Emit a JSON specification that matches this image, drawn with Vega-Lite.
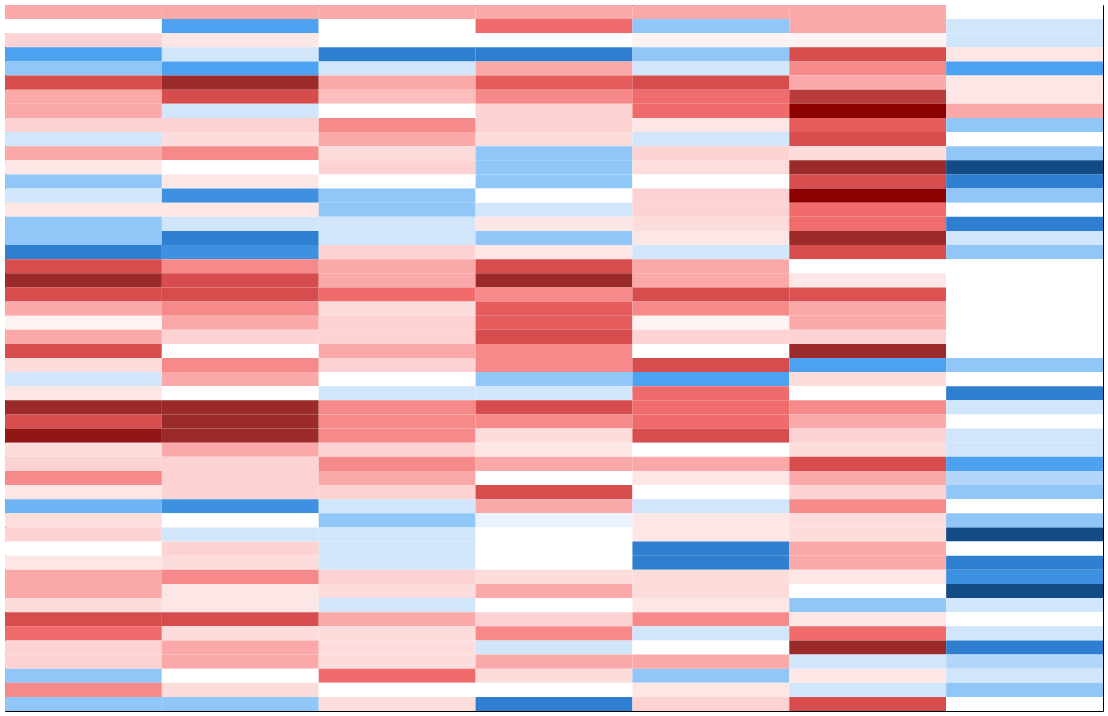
{
"$schema": "https://vega.github.io/schema/vega-lite/v6.json",
"width": 1098, "height": 706, "padding": 5,
"data": {"values": [
{"r":0,"c":1,"v":3},{"r":0,"c":2,"v":3},{"r":0,"c":3,"v":3},{"r":0,"c":4,"v":3},{"r":0,"c":5,"v":3},{"r":0,"c":6,"v":3},{"r":0,"c":7,"v":0},
{"r":1,"c":1,"v":0},{"r":1,"c":2,"v":-3},{"r":1,"c":3,"v":0},{"r":1,"c":4,"v":4},{"r":1,"c":5,"v":-2},{"r":1,"c":6,"v":3},{"r":1,"c":7,"v":-1},
{"r":2,"c":1,"v":2},{"r":2,"c":2,"v":1},{"r":2,"c":3,"v":0},{"r":2,"c":4,"v":0},{"r":2,"c":5,"v":0.5},{"r":2,"c":6,"v":0.5},{"r":2,"c":7,"v":-1},
{"r":3,"c":1,"v":-3},{"r":3,"c":2,"v":-1},{"r":3,"c":3,"v":-4},{"r":3,"c":4,"v":-4},{"r":3,"c":5,"v":-2},{"r":3,"c":6,"v":5},{"r":3,"c":7,"v":1},
{"r":4,"c":1,"v":-2},{"r":4,"c":2,"v":-3},{"r":4,"c":3,"v":-1},{"r":4,"c":4,"v":3},{"r":4,"c":5,"v":-1},{"r":4,"c":6,"v":3.5},{"r":4,"c":7,"v":-3},
{"r":5,"c":1,"v":5},{"r":5,"c":2,"v":6},{"r":5,"c":3,"v":3},{"r":5,"c":4,"v":4.5},{"r":5,"c":5,"v":5},{"r":5,"c":6,"v":3},{"r":5,"c":7,"v":1},
{"r":6,"c":1,"v":3},{"r":6,"c":2,"v":5},{"r":6,"c":3,"v":2.5},{"r":6,"c":4,"v":3.5},{"r":6,"c":5,"v":4},{"r":6,"c":6,"v":5.5},{"r":6,"c":7,"v":1},
{"r":7,"c":1,"v":3},{"r":7,"c":2,"v":-1},{"r":7,"c":3,"v":0},{"r":7,"c":4,"v":2},{"r":7,"c":5,"v":4},{"r":7,"c":6,"v":7},{"r":7,"c":7,"v":3},
{"r":8,"c":1,"v":2},{"r":8,"c":2,"v":2},{"r":8,"c":3,"v":3.5},{"r":8,"c":4,"v":2},{"r":8,"c":5,"v":1},{"r":8,"c":6,"v":4.5},{"r":8,"c":7,"v":-2},
{"r":9,"c":1,"v":-1},{"r":9,"c":2,"v":1.5},{"r":9,"c":3,"v":3},{"r":9,"c":4,"v":1.5},{"r":9,"c":5,"v":-1},{"r":9,"c":6,"v":5},{"r":9,"c":7,"v":0},
{"r":10,"c":1,"v":3},{"r":10,"c":2,"v":3.5},{"r":10,"c":3,"v":1.5},{"r":10,"c":4,"v":-2},{"r":10,"c":5,"v":2},{"r":10,"c":6,"v":1.5},{"r":10,"c":7,"v":-2},
{"r":11,"c":1,"v":1},{"r":11,"c":2,"v":0},{"r":11,"c":3,"v":2},{"r":11,"c":4,"v":-2},{"r":11,"c":5,"v":1.5},{"r":11,"c":6,"v":6},{"r":11,"c":7,"v":-5},
{"r":12,"c":1,"v":-2},{"r":12,"c":2,"v":1},{"r":12,"c":3,"v":0},{"r":12,"c":4,"v":-2},{"r":12,"c":5,"v":0},{"r":12,"c":6,"v":5},{"r":12,"c":7,"v":-4},
{"r":13,"c":1,"v":-1},{"r":13,"c":2,"v":-3.5},{"r":13,"c":3,"v":-2},{"r":13,"c":4,"v":0},{"r":13,"c":5,"v":2},{"r":13,"c":6,"v":7},{"r":13,"c":7,"v":-2},
{"r":14,"c":1,"v":1},{"r":14,"c":2,"v":1},{"r":14,"c":3,"v":-2},{"r":14,"c":4,"v":-1},{"r":14,"c":5,"v":2},{"r":14,"c":6,"v":4},{"r":14,"c":7,"v":0},
{"r":15,"c":1,"v":-2},{"r":15,"c":2,"v":-1},{"r":15,"c":3,"v":-1},{"r":15,"c":4,"v":1},{"r":15,"c":5,"v":1.5},{"r":15,"c":6,"v":4},{"r":15,"c":7,"v":-4},
{"r":16,"c":1,"v":-2},{"r":16,"c":2,"v":-4},{"r":16,"c":3,"v":-1},{"r":16,"c":4,"v":-2},{"r":16,"c":5,"v":1},{"r":16,"c":6,"v":6},{"r":16,"c":7,"v":-1},
{"r":17,"c":1,"v":-4},{"r":17,"c":2,"v":-3.5},{"r":17,"c":3,"v":2},{"r":17,"c":4,"v":1},{"r":17,"c":5,"v":-1},{"r":17,"c":6,"v":5},{"r":17,"c":7,"v":-2},
{"r":18,"c":1,"v":5},{"r":18,"c":2,"v":3.5},{"r":18,"c":3,"v":3},{"r":18,"c":4,"v":5},{"r":18,"c":5,"v":3},{"r":18,"c":6,"v":0},{"r":18,"c":7,"v":0},
{"r":19,"c":1,"v":6},{"r":19,"c":2,"v":5},{"r":19,"c":3,"v":3},{"r":19,"c":4,"v":6},{"r":19,"c":5,"v":3},{"r":19,"c":6,"v":1},{"r":19,"c":7,"v":0},
{"r":20,"c":1,"v":5},{"r":20,"c":2,"v":5},{"r":20,"c":3,"v":4},{"r":20,"c":4,"v":3.5},{"r":20,"c":5,"v":5},{"r":20,"c":6,"v":4.8},{"r":20,"c":7,"v":0},
{"r":21,"c":1,"v":3},{"r":21,"c":2,"v":3.5},{"r":21,"c":3,"v":1.5},{"r":21,"c":4,"v":4.5},{"r":21,"c":5,"v":3.5},{"r":21,"c":6,"v":3},{"r":21,"c":7,"v":0},
{"r":22,"c":1,"v":0.5},{"r":22,"c":2,"v":3},{"r":22,"c":3,"v":2},{"r":22,"c":4,"v":4.5},{"r":22,"c":5,"v":0.5},{"r":22,"c":6,"v":3},{"r":22,"c":7,"v":0},
{"r":23,"c":1,"v":3},{"r":23,"c":2,"v":2},{"r":23,"c":3,"v":2},{"r":23,"c":4,"v":5},{"r":23,"c":5,"v":2},{"r":23,"c":6,"v":2},{"r":23,"c":7,"v":0},
{"r":24,"c":1,"v":5},{"r":24,"c":2,"v":0},{"r":24,"c":3,"v":3},{"r":24,"c":4,"v":3.5},{"r":24,"c":5,"v":0},{"r":24,"c":6,"v":6},{"r":24,"c":7,"v":0},
{"r":25,"c":1,"v":1.5},{"r":25,"c":2,"v":3.5},{"r":25,"c":3,"v":2},{"r":25,"c":4,"v":3.5},{"r":25,"c":5,"v":5},{"r":25,"c":6,"v":-3},{"r":25,"c":7,"v":-2},
{"r":26,"c":1,"v":-1},{"r":26,"c":2,"v":3},{"r":26,"c":3,"v":0},{"r":26,"c":4,"v":-2},{"r":26,"c":5,"v":-3},{"r":26,"c":6,"v":1.5},{"r":26,"c":7,"v":0},
{"r":27,"c":1,"v":1},{"r":27,"c":2,"v":0},{"r":27,"c":3,"v":-1},{"r":27,"c":4,"v":-1},{"r":27,"c":5,"v":4},{"r":27,"c":6,"v":0},{"r":27,"c":7,"v":-4},
{"r":28,"c":1,"v":6},{"r":28,"c":2,"v":6},{"r":28,"c":3,"v":3.5},{"r":28,"c":4,"v":5},{"r":28,"c":5,"v":4},{"r":28,"c":6,"v":3.5},{"r":28,"c":7,"v":-1},
{"r":29,"c":1,"v":5},{"r":29,"c":2,"v":6},{"r":29,"c":3,"v":3.5},{"r":29,"c":4,"v":3.5},{"r":29,"c":5,"v":4},{"r":29,"c":6,"v":3},{"r":29,"c":7,"v":0},
{"r":30,"c":1,"v":6.5},{"r":30,"c":2,"v":6},{"r":30,"c":3,"v":3.5},{"r":30,"c":4,"v":1.5},{"r":30,"c":5,"v":5},{"r":30,"c":6,"v":2},{"r":30,"c":7,"v":-1},
{"r":31,"c":1,"v":1.5},{"r":31,"c":2,"v":3},{"r":31,"c":3,"v":2},{"r":31,"c":4,"v":1},{"r":31,"c":5,"v":0},{"r":31,"c":6,"v":1.5},{"r":31,"c":7,"v":-1},
{"r":32,"c":1,"v":2},{"r":32,"c":2,"v":2},{"r":32,"c":3,"v":3.5},{"r":32,"c":4,"v":3},{"r":32,"c":5,"v":3},{"r":32,"c":6,"v":5},{"r":32,"c":7,"v":-3},
{"r":33,"c":1,"v":3.5},{"r":33,"c":2,"v":2},{"r":33,"c":3,"v":3},{"r":33,"c":4,"v":0},{"r":33,"c":5,"v":1},{"r":33,"c":6,"v":3},{"r":33,"c":7,"v":-1.5},
{"r":34,"c":1,"v":1},{"r":34,"c":2,"v":2},{"r":34,"c":3,"v":2},{"r":34,"c":4,"v":5},{"r":34,"c":5,"v":0},{"r":34,"c":6,"v":2},{"r":34,"c":7,"v":-2},
{"r":35,"c":1,"v":-2.5},{"r":35,"c":2,"v":-3.5},{"r":35,"c":3,"v":-1},{"r":35,"c":4,"v":3},{"r":35,"c":5,"v":-1},{"r":35,"c":6,"v":3.5},{"r":35,"c":7,"v":0},
{"r":36,"c":1,"v":1.5},{"r":36,"c":2,"v":0},{"r":36,"c":3,"v":-2},{"r":36,"c":4,"v":-0.5},{"r":36,"c":5,"v":1},{"r":36,"c":6,"v":1.5},{"r":36,"c":7,"v":-2},
{"r":37,"c":1,"v":2},{"r":37,"c":2,"v":-1},{"r":37,"c":3,"v":-1},{"r":37,"c":4,"v":0},{"r":37,"c":5,"v":1},{"r":37,"c":6,"v":1.5},{"r":37,"c":7,"v":-5},
{"r":38,"c":1,"v":0},{"r":38,"c":2,"v":2},{"r":38,"c":3,"v":-1},{"r":38,"c":4,"v":0},{"r":38,"c":5,"v":-4},{"r":38,"c":6,"v":3},{"r":38,"c":7,"v":0},
{"r":39,"c":1,"v":1},{"r":39,"c":2,"v":1.5},{"r":39,"c":3,"v":-1},{"r":39,"c":4,"v":0},{"r":39,"c":5,"v":-4},{"r":39,"c":6,"v":3},{"r":39,"c":7,"v":-4},
{"r":40,"c":1,"v":3},{"r":40,"c":2,"v":3.5},{"r":40,"c":3,"v":2},{"r":40,"c":4,"v":1.5},{"r":40,"c":5,"v":1.5},{"r":40,"c":6,"v":1},{"r":40,"c":7,"v":-3.5},
{"r":41,"c":1,"v":3},{"r":41,"c":2,"v":1},{"r":41,"c":3,"v":1.5},{"r":41,"c":4,"v":3},{"r":41,"c":5,"v":1.5},{"r":41,"c":6,"v":0},{"r":41,"c":7,"v":-5},
{"r":42,"c":1,"v":1.5},{"r":42,"c":2,"v":1},{"r":42,"c":3,"v":-1},{"r":42,"c":4,"v":0},{"r":42,"c":5,"v":1},{"r":42,"c":6,"v":-2},{"r":42,"c":7,"v":-1},
{"r":43,"c":1,"v":5},{"r":43,"c":2,"v":5},{"r":43,"c":3,"v":3},{"r":43,"c":4,"v":2},{"r":43,"c":5,"v":3.5},{"r":43,"c":6,"v":1},{"r":43,"c":7,"v":0},
{"r":44,"c":1,"v":4},{"r":44,"c":2,"v":1.5},{"r":44,"c":3,"v":1.5},{"r":44,"c":4,"v":3.5},{"r":44,"c":5,"v":-1},{"r":44,"c":6,"v":4},{"r":44,"c":7,"v":-1},
{"r":45,"c":1,"v":2},{"r":45,"c":2,"v":3},{"r":45,"c":3,"v":1.5},{"r":45,"c":4,"v":-1},{"r":45,"c":5,"v":0},{"r":45,"c":6,"v":6},{"r":45,"c":7,"v":-4},
{"r":46,"c":1,"v":2},{"r":46,"c":2,"v":3},{"r":46,"c":3,"v":1.5},{"r":46,"c":4,"v":3},{"r":46,"c":5,"v":3},{"r":46,"c":6,"v":-1},{"r":46,"c":7,"v":-1.5},
{"r":47,"c":1,"v":-2},{"r":47,"c":2,"v":0},{"r":47,"c":3,"v":4},{"r":47,"c":4,"v":1.5},{"r":47,"c":5,"v":-2},{"r":47,"c":6,"v":1},{"r":47,"c":7,"v":-1},
{"r":48,"c":1,"v":3.5},{"r":48,"c":2,"v":1.5},{"r":48,"c":3,"v":0},{"r":48,"c":4,"v":0},{"r":48,"c":5,"v":1},{"r":48,"c":6,"v":-1},{"r":48,"c":7,"v":-2},
{"r":49,"c":1,"v":-2},{"r":49,"c":2,"v":-2},{"r":49,"c":3,"v":1.5},{"r":49,"c":4,"v":-4},{"r":49,"c":5,"v":2},{"r":49,"c":6,"v":5},{"r":49,"c":7,"v":0}
]},
"mark": {"type": "rect"},
"encoding": {
  "x": {"field": "c", "type": "ordinal", "axis": null, "scale": {"paddingInner": 0, "paddingOuter": 0}},
  "y": {"field": "r", "type": "ordinal", "axis": null, "scale": {"paddingInner": 0, "paddingOuter": 0}},
  "color": {"field": "v", "type": "quantitative", "legend": null,
    "scale": {"interpolate": "rgb", "domain": [-5,-4,-3,-2,-1,0,1,2,3,4,5,6,7],
      "range": ["#134b87","#2f7fd1","#4ca2f0","#91c6f9","#d1e6fb","#ffffff","#fde6e6","#fdd2d2","#fba8a8","#f06b6b","#d74c4c","#9b2b2b","#8b0000"]}}
},
"config": {"view": {"stroke": "#000000", "strokeWidth": 1}}
}
